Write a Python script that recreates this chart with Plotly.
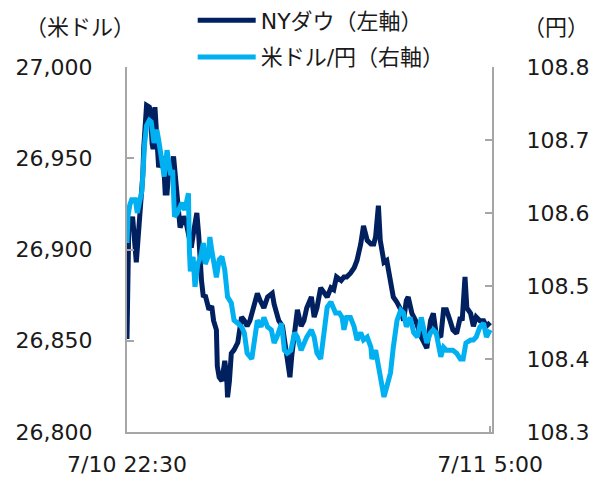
import plotly.graph_objects as go

# minutes since 7/10 22:30
dow_t = [0, 1, 2, 4, 6, 10, 13, 15, 17, 18, 21, 24, 25, 27, 28, 30, 32, 34, 37, 40, 41, 43, 45, 48, 50, 52, 53, 57, 59, 61,
         63, 66, 69, 72, 75, 77, 78, 80, 82, 84, 88, 91, 93, 96, 97, 99, 102, 105, 107, 108, 110, 112, 115, 119, 121, 123,
         126, 129, 132, 137, 140, 143, 147, 151, 156, 158, 160, 163, 167, 171, 175, 177, 180, 183, 187, 190, 193, 198, 201,
         204, 208, 212, 215, 219, 222, 225, 230, 233, 236, 240, 244, 247, 251, 254, 258, 262, 265, 267, 270, 272, 276, 279,
         283, 286, 290, 294, 297, 300, 302, 306, 310, 313, 316, 319, 322, 326, 329, 332, 337, 340, 343, 347, 350, 354, 358,
         360, 363, 365, 369, 372, 375, 379, 383, 386, 390]
dow_v = [26851, 26901, 26916, 26911, 26918, 26893, 26911, 26927, 26941, 26956, 26979, 26978, 26976, 26958, 26955, 26978,
         26960, 26945, 26951, 26941, 26931, 26931, 26944, 26946, 26951, 26941, 26933, 26912, 26915, 26918, 26916, 26908,
         26901, 26911, 26920, 26908, 26896, 26883, 26874, 26875, 26867, 26869, 26861, 26856, 26836, 26830, 26828, 26839,
         26831, 26819, 26828, 26843, 26845, 26849, 26856, 26863, 26861, 26858, 26861, 26871, 26876, 26872, 26868, 26874,
         26876, 26870, 26867, 26861, 26858, 26843, 26830, 26842, 26856, 26867, 26858, 26861, 26868, 26874, 26863, 26868,
         26879, 26876, 26874, 26879, 26878, 26885, 26883, 26885, 26885, 26887, 26890, 26894, 26903, 26913, 26905, 26903,
         26903, 26907, 26924, 26905, 26893, 26894, 26883, 26874, 26871, 26867, 26861, 26872, 26874, 26865, 26861, 26856,
         26852, 26849, 26846, 26861, 26865, 26854, 26852, 26867, 26867, 26861, 26856, 26854, 26863, 26861, 26885, 26868,
         26865, 26858, 26863, 26861, 26861, 26858, 26860]

yen_t = [0, 1, 3, 5, 9, 11, 14, 16, 19, 21, 24, 26, 29, 32, 34, 37, 40, 43, 45, 47, 49, 51, 54, 59, 62, 66, 67, 68, 71, 73,
         76, 79, 82, 84, 87, 89, 91, 93, 96, 99, 102, 105, 108, 112, 115, 119, 123, 126, 129, 134, 137, 140, 144, 147, 151,
         155, 158, 161, 166, 169, 172, 176, 180, 183, 187, 190, 193, 198, 201, 204, 208, 212, 215, 219, 222, 224, 228, 231,
         233, 236, 240, 244, 247, 251, 254, 258, 262, 263, 267, 270, 272, 276, 279, 281, 283, 286, 290, 294, 297, 300, 304,
         308, 312, 316, 319, 322, 326, 329, 332, 337, 340, 343, 347, 350, 354, 358, 361, 364, 369, 372, 375, 379, 383, 386, 390]
yen_v = [108.559, 108.595, 108.611, 108.618, 108.618, 108.600, 108.618, 108.630, 108.696, 108.720, 108.727, 108.725,
         108.696, 108.714, 108.700, 108.677, 108.650, 108.686, 108.663, 108.652, 108.659, 108.595, 108.600, 108.614,
         108.604, 108.627, 108.549, 108.520, 108.540, 108.499, 108.530, 108.540, 108.559, 108.530, 108.540, 108.567,
         108.549, 108.529, 108.512, 108.536, 108.540, 108.522, 108.485, 108.477, 108.453, 108.449, 108.444, 108.436,
         108.408, 108.400, 108.430, 108.453, 108.444, 108.457, 108.444, 108.440, 108.422, 108.430, 108.449, 108.412,
         108.408, 108.412, 108.436, 108.430, 108.412, 108.422, 108.430, 108.440, 108.430, 108.408, 108.400, 108.440,
         108.471, 108.478, 108.471, 108.463, 108.463, 108.457, 108.440, 108.457, 108.457, 108.444, 108.426, 108.436,
         108.426, 108.430, 108.416, 108.400, 108.412, 108.389, 108.371, 108.348, 108.362, 108.371, 108.381, 108.416,
         108.453, 108.467, 108.463, 108.444, 108.457, 108.436, 108.430, 108.457, 108.436, 108.422, 108.436, 108.440,
         108.436, 108.403, 108.416, 108.412, 108.412, 108.412, 108.408, 108.400, 108.400, 108.422, 108.426, 108.426,
         108.430, 108.444, 108.449, 108.430, 108.440]

x_tick_vals = [0, 390]
x_tick_text = ["7/10 22:30", "7/11 5:00"]
dow_name = "NYダウ（左軸）"
yen_name = "米ドル/円（右軸）"

FONT = "DejaVu Sans, Verdana, Noto Sans CJK JP"
NAVY = "#002060"
CYAN = "#00B0F0"
AXIS = "#A6A6A6"

fig = go.Figure()
fig.add_trace(go.Scatter(x=dow_t, y=dow_v, mode="lines", name=dow_name, legendgroup="a",
                         line=dict(color=NAVY, width=5), yaxis="y"))
fig.add_trace(go.Scatter(x=yen_t, y=yen_v, mode="lines", name=yen_name, legendgroup="b",
                         line=dict(color=CYAN, width=5), yaxis="y2"))

fig.update_layout(
    width=589, height=480,
    margin=dict(l=127, r=97, t=67, b=48, autoexpand=False),
    plot_bgcolor="white", paper_bgcolor="white",
    font=dict(family=FONT, size=22, color="#1a1a1a"),
    showlegend=True,
    legend=dict(x=0.18, y=1.185, xanchor="left", yanchor="top", bgcolor="rgba(0,0,0,0)",
                font=dict(size=22), tracegroupgap=5, itemwidth=58),
    xaxis=dict(range=[0, 392], tickvals=x_tick_vals, ticktext=x_tick_text, showgrid=False, zeroline=False,
               showline=True, linecolor=AXIS, linewidth=2, ticks="inside", ticklen=6, tickcolor=AXIS,
               tickwidth=2, ticklabelstandoff=12, automargin=False),
    yaxis=dict(range=[26800, 27000], dtick=50, tickformat=",d", showgrid=False, zeroline=False,
               showline=True, linecolor=AXIS, linewidth=2, ticks="inside", ticklen=7, tickcolor=AXIS,
               tickwidth=2, ticklabelstandoff=28, automargin=False),
    yaxis2=dict(range=[108.3, 108.8], dtick=0.1, tickformat=".1f", overlaying="y", side="right",
                showgrid=False, zeroline=False, showline=True, linecolor=AXIS, linewidth=2,
                ticks="inside", ticklen=7, tickcolor=AXIS, tickwidth=2, ticklabelstandoff=28,
                automargin=False),
    annotations=[
        dict(text="（米ドル）", xref="paper", yref="paper", x=-0.128, y=1.107, showarrow=False,
             xanchor="center", yanchor="middle", font=dict(size=22)),
        dict(text="（円）", xref="paper", yref="paper", x=1.175, y=1.107, showarrow=False,
             xanchor="center", yanchor="middle", font=dict(size=22)),
    ],
)

fig.write_html("out.html")
